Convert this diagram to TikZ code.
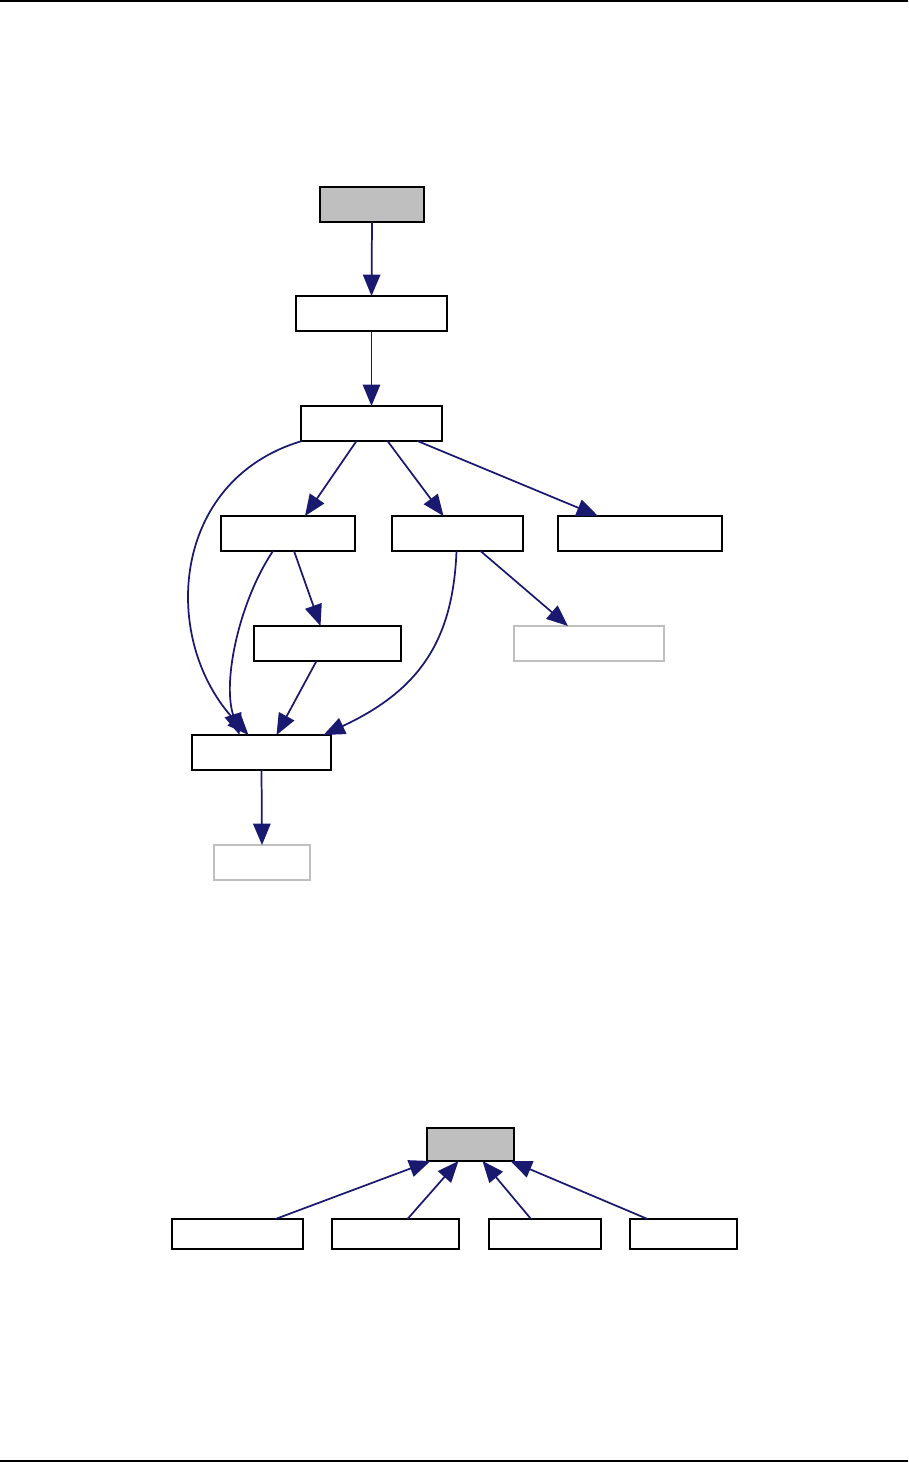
\documentclass[tikz,border=0pt]{standalone}
\usetikzlibrary{arrows.meta,calc}
\definecolor{edgeblue}{HTML}{191970}
\definecolor{boxgray}{HTML}{BFBFBF}
\begin{document}
\begin{tikzpicture}[x=0.75pt,y=-0.75pt,
  box/.style={draw=black,line width=1.5pt,fill=white,inner sep=0pt,outer sep=0pt},
  mainbox/.style={box,fill=boxgray},
  ghostbox/.style={box,draw=boxgray},
  edge/.style={draw=edgeblue,line width=1.3pt,-{Triangle[length=16pt,width=13pt]}},
  rule/.style={line width=1.5pt}]
\useasboundingbox (0,0) rectangle (908,1463);
\draw[rule] (0,1) -- (908,1);
\draw[rule] (0,1461) -- (908,1461);
% top graph
\node[mainbox,minimum width=78pt,minimum height=26.25pt] (A) at (372,204.5) {};
\node[box,minimum width=113.25pt,minimum height=26.25pt] (B) at (371.5,313.5) {};
\node[box,minimum width=105.75pt,minimum height=26.25pt] (C) at (371.5,423.5) {};
\node[box,minimum width=100.5pt,minimum height=26.25pt] (D) at (288,533.5) {};
\node[box,minimum width=98.25pt,minimum height=26.25pt] (E) at (457.5,533.5) {};
\node[box,minimum width=123pt,minimum height=26.25pt] (F) at (640,533.5) {};
\node[box,minimum width=110.25pt,minimum height=26.25pt] (G) at (327.5,643.5) {};
\node[ghostbox,minimum width=112.5pt,minimum height=26.25pt] (H) at (589,643.5) {};
\node[box,minimum width=104.25pt,minimum height=26.25pt] (I) at (261.5,752.5) {};
\node[ghostbox,minimum width=72pt,minimum height=26.25pt] (J) at (262,862.5) {};
\draw[edge] (A.south) -- (B.north);
\draw[edge] (B.south) -- (C.north);
\draw[edge] ($(C.south)+(-15,0)$) -- ($(D.north)+(17,0)$);
\draw[edge] ($(C.south)+(16,0)$) -- ($(E.north)+(-14,0)$);
\draw[edge] ($(C.south)+(46,0)$) -- ($(F.north)+(-42,0)$);
\draw[edge] ($(C.south west)+(1,0)$) .. controls (170,480) and (160,640) .. ($(I.north)+(-13,0)$);
\draw[edge] ($(D.south)+(6,0)$) -- ($(G.north)+(-7,0)$);
\draw[edge] ($(D.south)+(-15,0)$) .. controls (240,600) and (222,680) .. ($(I.north)+(-22,0)$);
\draw[edge] ($(G.south)+(-11,0)$) -- ($(I.north)+(15,0)$);
\draw[edge] ($(E.south)+(-1,0)$) .. controls (453,640) and (420,690) .. ($(I.north)+(62,0)$);
\draw[edge] ($(E.south)+(23,0)$) -- ($(H.north)+(-21,0)$);
\draw[edge] (I.south) -- (J.north);
% bottom graph
\node[mainbox,minimum width=65.25pt,minimum height=24.75pt] (K) at (470.5,1144.5) {};
\node[box,minimum width=98.25pt,minimum height=22.5pt] (L1) at (237.5,1234) {};
\node[box,minimum width=95.25pt,minimum height=22.5pt] (L2) at (395.5,1234) {};
\node[box,minimum width=84pt,minimum height=22.5pt] (L3) at (545,1234) {};
\node[box,minimum width=80.25pt,minimum height=22.5pt] (L4) at (683.5,1234) {};
\draw[edge] ($(L1.north)+(38,0)$) -- ($(K.south)+(-40,0)$);
\draw[edge] ($(L2.north)+(12,0)$) -- ($(K.south)+(-12,0)$);
\draw[edge] ($(L3.north)+(-14,0)$) -- ($(K.south)+(12,0)$);
\draw[edge] ($(L4.north)+(-36,0)$) -- ($(K.south)+(40,0)$);
\end{tikzpicture}
\end{document}
